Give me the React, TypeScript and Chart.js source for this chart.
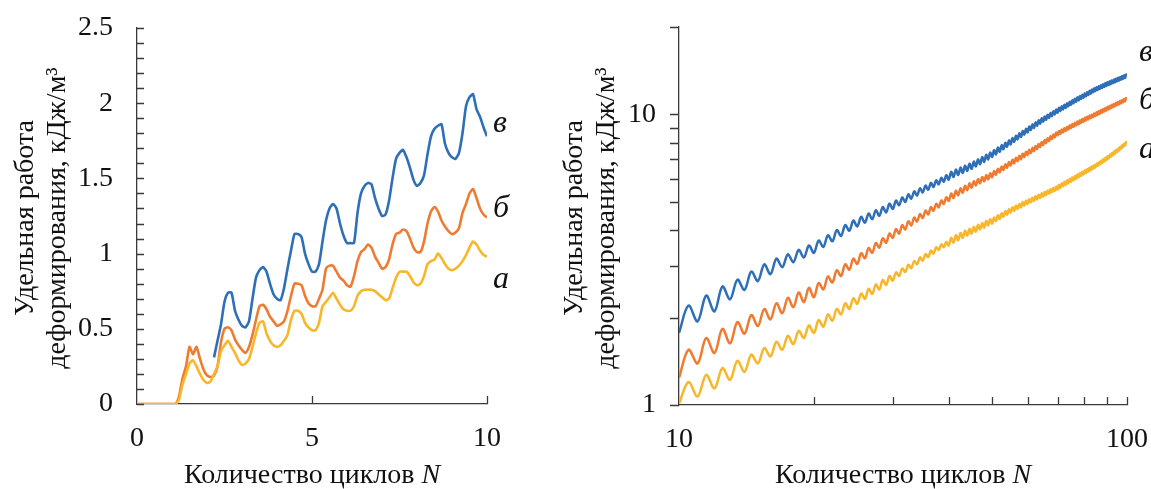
import React, { useEffect, useRef } from "react";
import { Chart, registerables } from "chart.js";

Chart.register(...registerables);

const FONT = '"Liberation Serif", "Times New Roman", serif';
const AXIS = "#3a3a3a";
const TEXT = "#111111";
const COLOR_A = "#f8b62a";
const COLOR_B = "#ef7b31";
const COLOR_C = "#2e6fb7";

// ---------- Left chart (linear): cycles 0..10 ----------
const cyclesLin = [
  0, 0.1, 0.2, 0.3, 0.4, 0.5, 0.6, 0.7, 0.8, 0.9,
  1, 1.1, 1.2, 1.3, 1.4, 1.5, 1.6, 1.7, 1.8, 1.9,
  2, 2.1, 2.2, 2.3, 2.4, 2.5, 2.6, 2.7, 2.8, 2.9,
  3, 3.1, 3.2, 3.3, 3.4, 3.5, 3.6, 3.7, 3.8, 3.9,
  4, 4.1, 4.2, 4.3, 4.4, 4.5, 4.6, 4.7, 4.8, 4.9,
  5, 5.1, 5.2, 5.3, 5.4, 5.5, 5.6, 5.7, 5.8, 5.9,
  6, 6.1, 6.2, 6.3, 6.4, 6.5, 6.6, 6.7, 6.8, 6.9,
  7, 7.1, 7.2, 7.3, 7.4, 7.5, 7.6, 7.7, 7.8, 7.9,
  8, 8.1, 8.2, 8.3, 8.4, 8.5, 8.6, 8.7, 8.8, 8.9,
  9, 9.1, 9.2, 9.3, 9.4, 9.5, 9.6, 9.7, 9.8, 9.9,
  10,
];

const workLinA = [
  0, 0, 0, 0, 0, 0, 0, 0, 0, 0,
  0, 0, 0.03, 0.13, 0.2, 0.27, 0.29, 0.25, 0.2, 0.16,
  0.14, 0.15, 0.2, 0.25, 0.35, 0.39, 0.42, 0.38, 0.34, 0.29,
  0.26, 0.27, 0.3, 0.38, 0.47, 0.54, 0.55, 0.47, 0.42, 0.39,
  0.38, 0.39, 0.42, 0.46, 0.56, 0.62, 0.62, 0.6, 0.54, 0.51,
  0.49, 0.49, 0.54, 0.65, 0.68, 0.71, 0.74, 0.7, 0.66, 0.63,
  0.62, 0.62, 0.65, 0.72, 0.75, 0.76, 0.76, 0.76, 0.75, 0.73,
  0.71, 0.69, 0.7, 0.77, 0.84, 0.88, 0.88, 0.88, 0.85, 0.81,
  0.79, 0.8, 0.85, 0.93, 0.95, 0.96, 1.0, 0.97, 0.93, 0.9,
  0.89, 0.9, 0.92, 0.95, 0.99, 1.04, 1.08, 1.06, 1.02, 0.99,
  0.98,
];

const workLinB = [
  0, 0, 0, 0, 0, 0, 0, 0, 0, 0,
  0, 0, 0.05, 0.17, 0.25, 0.38, 0.33, 0.38, 0.3, 0.23,
  0.19, 0.18, 0.19, 0.25, 0.41, 0.5, 0.51, 0.49, 0.43, 0.39,
  0.36, 0.34, 0.38, 0.46, 0.56, 0.65, 0.66, 0.63, 0.58, 0.55,
  0.52, 0.53, 0.55, 0.62, 0.72, 0.8, 0.8, 0.79, 0.72, 0.67,
  0.65, 0.65, 0.7, 0.76, 0.9, 0.92, 0.92, 0.88, 0.84, 0.82,
  0.79, 0.78, 0.85, 0.95, 1.01, 1.03, 1.06, 1.04, 0.98, 0.94,
  0.9, 0.91, 0.96, 1.06, 1.13, 1.14, 1.16, 1.15, 1.1, 1.04,
  1.01, 1.01, 1.08, 1.2, 1.28, 1.31, 1.28, 1.22, 1.18, 1.15,
  1.13, 1.14, 1.17, 1.27, 1.33, 1.4, 1.43, 1.37, 1.3, 1.26,
  1.24,
];

const workLinC = [
  null, null, null, null, null, null, null, null, null, null,
  null, null, null, null, null, null, null, null, null, null,
  null, null, 0.31, 0.42, 0.53, 0.68, 0.74, 0.74, 0.62, 0.56,
  0.52, 0.51, 0.55, 0.7, 0.84, 0.89, 0.91, 0.88, 0.8, 0.73,
  0.7, 0.69, 0.77, 0.9, 1.02, 1.13, 1.13, 1.11, 1.0, 0.93,
  0.88, 0.88, 0.93, 1.08, 1.22, 1.3, 1.33, 1.3, 1.2, 1.12,
  1.07, 1.07, 1.07, 1.27, 1.4, 1.45, 1.47, 1.46, 1.37, 1.3,
  1.25, 1.26, 1.35, 1.5, 1.63, 1.67, 1.69, 1.64, 1.57, 1.49,
  1.45, 1.47, 1.52, 1.66, 1.78, 1.83, 1.85, 1.86, 1.73, 1.67,
  1.64, 1.63, 1.67, 1.8, 1.98, 2.04, 2.06, 1.96, 1.91, 1.84,
  1.78,
];

// ---------- Right chart (log-log): cycles 10..100 ----------
const cyclesLog = [
  10, 10.5, 11, 11.5, 12, 12.5, 13, 13.5, 14, 14.5,
  15, 15.5, 16, 16.5, 17, 17.5, 18, 18.5, 19, 19.5,
  20, 20.5, 21, 21.5, 22, 22.5, 23, 23.5, 24, 24.5,
  25, 25.5, 26, 26.5, 27, 27.5, 28, 28.5, 29, 29.5,
  30, 30.5, 31, 31.5, 32, 32.5, 33, 33.5, 34, 34.5,
  35, 35.5, 36, 36.5, 37, 37.5, 38, 38.5, 39, 39.5,
  40, 40.5, 41, 41.5, 42, 42.5, 43, 43.5, 44, 44.5,
  45, 45.5, 46, 46.5, 47, 47.5, 48, 48.5, 49, 49.5,
  50, 50.5, 51, 51.5, 52, 52.5, 53, 53.5, 54, 54.5,
  55, 55.5, 56, 56.5, 57, 57.5, 58, 58.5, 59, 59.5,
  60, 60.5, 61, 61.5, 62, 62.5, 63, 63.5, 64, 64.5,
  65, 65.5, 66, 66.5, 67, 67.5, 68, 68.5, 69, 69.5,
  70, 70.5, 71, 71.5, 72, 72.5, 73, 73.5, 74, 74.5,
  75, 75.5, 76, 76.5, 77, 77.5, 78, 78.5, 79, 79.5,
  80, 80.5, 81, 81.5, 82, 82.5, 83, 83.5, 84, 84.5,
  85, 85.5, 86, 86.5, 87, 87.5, 88, 88.5, 89, 89.5,
  90, 90.5, 91, 91.5, 92, 92.5, 93, 93.5, 94, 94.5,
  95, 95.5, 96, 96.5, 97, 97.5, 98, 98.5, 99, 99.5,
  100,
];

const workLogA = [
  1.01, 1.20, 1.07, 1.27, 1.14, 1.34, 1.22, 1.42, 1.30, 1.49,
  1.39, 1.57, 1.47, 1.65, 1.55, 1.73, 1.62, 1.80, 1.70, 1.88,
  1.77, 1.96, 1.86, 2.05, 1.95, 2.14, 2.05, 2.24, 2.14, 2.33,
  2.23, 2.42, 2.32, 2.51, 2.41, 2.60, 2.50, 2.69, 2.59, 2.78,
  2.68, 2.86, 2.78, 2.95, 2.87, 3.04, 2.96, 3.13, 3.05, 3.22,
  3.14, 3.31, 3.23, 3.40, 3.32, 3.49, 3.41, 3.57, 3.49, 3.65,
  3.54, 3.76, 3.62, 3.84, 3.69, 3.91, 3.76, 3.98, 3.83, 4.04,
  3.89, 4.10, 3.95, 4.17, 4.02, 4.23, 4.08, 4.30, 4.15, 4.36,
  4.21, 4.42, 4.30, 4.50, 4.37, 4.57, 4.45, 4.65, 4.52, 4.72,
  4.60, 4.79, 4.66, 4.86, 4.73, 4.92, 4.79, 4.99, 4.86, 5.05,
  4.92, 5.11, 4.98, 5.17, 5.04, 5.23, 5.10, 5.29, 5.16, 5.35,
  5.22, 5.41, 5.28, 5.47, 5.34, 5.53, 5.40, 5.59, 5.46, 5.65,
  5.52, 5.72, 5.59, 5.79, 5.66, 5.86, 5.73, 5.93, 5.80, 6.00,
  5.87, 6.07, 5.94, 6.14, 6.01, 6.21, 6.08, 6.28, 6.15, 6.35,
  6.22, 6.42, 6.29, 6.49, 6.36, 6.56, 6.43, 6.63, 6.50, 6.70,
  6.57, 6.77, 6.65, 6.85, 6.73, 6.93, 6.81, 7.01, 6.89, 7.09,
  6.97, 7.18, 7.06, 7.27, 7.15, 7.36, 7.24, 7.45, 7.33, 7.54,
  7.42, 7.63, 7.52, 7.73, 7.62, 7.83, 7.72, 7.93, 7.82, 8.03,
  7.98,
];

const workLogB = [
  1.24, 1.55, 1.39, 1.70, 1.51, 1.83, 1.63, 1.93, 1.76, 2.04,
  1.87, 2.14, 1.97, 2.24, 2.07, 2.34, 2.17, 2.44, 2.26, 2.53,
  2.35, 2.63, 2.50, 2.77, 2.64, 2.91, 2.78, 3.05, 2.92, 3.19,
  3.06, 3.33, 3.20, 3.47, 3.34, 3.61, 3.48, 3.75, 3.62, 3.89,
  3.76, 4.03, 3.89, 4.16, 4.02, 4.29, 4.15, 4.42, 4.28, 4.54,
  4.40, 4.67, 4.53, 4.80, 4.66, 4.93, 4.79, 5.06, 4.92, 5.19,
  5.04, 5.34, 5.16, 5.46, 5.27, 5.57, 5.38, 5.68, 5.49, 5.79,
  5.60, 5.89, 5.70, 5.99, 5.80, 6.09, 5.89, 6.18, 5.98, 6.27,
  6.08, 6.38, 6.20, 6.50, 6.32, 6.62, 6.44, 6.74, 6.56, 6.86,
  6.68, 6.98, 6.79, 7.09, 6.91, 7.21, 7.02, 7.32, 7.14, 7.44,
  7.25, 7.55, 7.37, 7.67, 7.49, 7.79, 7.61, 7.91, 7.73, 8.03,
  7.85, 8.16, 7.98, 8.28, 8.10, 8.41, 8.23, 8.53, 8.35, 8.66,
  8.48, 8.77, 8.58, 8.87, 8.68, 8.97, 8.78, 9.07, 8.88, 9.17,
  8.98, 9.27, 9.07, 9.36, 9.17, 9.46, 9.26, 9.55, 9.36, 9.65,
  9.45, 9.74, 9.54, 9.82, 9.62, 9.91, 9.71, 9.99, 9.79, 10.08,
  9.88, 10.17, 9.97, 10.26, 10.06, 10.35, 10.15, 10.44, 10.24, 10.53,
  10.33, 10.62, 10.42, 10.70, 10.50, 10.79, 10.59, 10.87, 10.67, 10.96,
  10.76, 11.04, 10.84, 11.13, 10.93, 11.21, 11.01, 11.30, 11.10, 11.38,
  11.28,
];

const workLogC = [
  1.77, 2.20, 1.94, 2.38, 2.10, 2.56, 2.31, 2.70, 2.49, 2.88,
  2.67, 3.05, 2.82, 3.19, 2.98, 3.30, 3.10, 3.42, 3.22, 3.54,
  3.34, 3.68, 3.50, 3.84, 3.66, 4.00, 3.82, 4.16, 3.98, 4.31,
  4.12, 4.44, 4.24, 4.56, 4.36, 4.68, 4.48, 4.80, 4.60, 4.93,
  4.73, 5.05, 4.87, 5.18, 5.00, 5.31, 5.13, 5.44, 5.26, 5.57,
  5.39, 5.69, 5.51, 5.81, 5.63, 5.93, 5.75, 6.05, 5.87, 6.18,
  5.96, 6.35, 6.09, 6.46, 6.19, 6.56, 6.29, 6.66, 6.39, 6.77,
  6.50, 6.88, 6.62, 7.00, 6.74, 7.13, 6.87, 7.26, 7.00, 7.39,
  7.14, 7.54, 7.29, 7.69, 7.44, 7.84, 7.59, 7.99, 7.74, 8.14,
  7.89, 8.29, 8.05, 8.45, 8.21, 8.61, 8.37, 8.77, 8.53, 8.93,
  8.67, 9.09, 8.84, 9.24, 8.99, 9.39, 9.15, 9.55, 9.30, 9.70,
  9.45, 9.84, 9.59, 9.98, 9.73, 10.12, 9.87, 10.26, 10.01, 10.40,
  10.15, 10.54, 10.28, 10.67, 10.41, 10.80, 10.54, 10.93, 10.67, 11.06,
  10.80, 11.19, 10.93, 11.32, 11.06, 11.45, 11.19, 11.57, 11.31, 11.69,
  11.43, 11.81, 11.55, 11.93, 11.67, 12.06, 11.80, 12.18, 11.92, 12.30,
  12.04, 12.41, 12.14, 12.51, 12.24, 12.61, 12.34, 12.71, 12.44, 12.81,
  12.54, 12.91, 12.63, 13.00, 12.72, 13.09, 12.81, 13.18, 12.90, 13.27,
  12.99, 13.36, 13.08, 13.45, 13.17, 13.54, 13.26, 13.63, 13.35, 13.72,
  13.55,
];

// ---------- Texts / tick labels ----------
const curveLabels = ["а", "б", "в"];
const linYTickLabels = [0, 0.5, 1, 1.5, 2, 2.5];
const linXTickLabels = [0, 5, 10];
const logYTickLabels = [1, 10];
const logXTickLabels = [10, 100];
const yTitleLines = ["Удельная работа", "деформирования, кДж/м³"];
const xTitleMain = "Количество циклов ";
const xTitleVar = "N";

const TICK_FONT = { family: FONT, size: 28 };

function hasLabel(list: number[], v: number) {
  return list.some((l) => Math.abs(l - v) < 1e-6 * Math.max(1, Math.abs(l)));
}

// log axes only mark 1..9 × 10^n
function isDecadeStep(v: number) {
  const e = Math.pow(10, Math.floor(Math.log10(v) + 1e-9));
  const m = v / e;
  return Math.abs(m - Math.round(m)) < 1e-6;
}

function makeSet(label: string, xs: number[], ys: (number | null)[], color: string, width: number, tension: number) {
  return {
    label,
    data: xs.map((x, i) => ({ x, y: ys[i] })),
    borderColor: color,
    backgroundColor: color,
    borderWidth: width,
    pointRadius: 0,
    pointHoverRadius: 0,
    tension,
    fill: false,
    spanGaps: false,
  };
}

function noScalePadding(s: any) {
  s.paddingTop = 0;
  s.paddingBottom = 0;
  s.paddingLeft = 0;
  s.paddingRight = 0;
}

function decorPlugin(spec: any) {
  return {
    id: "decor",
    afterDraw(chart: any) {
      const { ctx, chartArea: a, scales } = chart;
      const xs = scales.x;
      const ys = scales.y;
      ctx.save();
      ctx.strokeStyle = AXIS;
      ctx.lineWidth = 1.3;
      ctx.beginPath();
      ys.ticks.forEach((t: any) => {
        if (spec.log && !isDecadeStep(t.value)) return;
        const p = Math.round(ys.getPixelForValue(t.value)) + 0.5;
        if (spec.yInside) {
          ctx.moveTo(a.left, p);
          ctx.lineTo(a.left + spec.yTickLen, p);
        } else {
          ctx.moveTo(a.left - spec.yTickLen, p);
          ctx.lineTo(a.left, p);
        }
      });
      xs.ticks.forEach((t: any) => {
        if (spec.log && !isDecadeStep(t.value)) return;
        const p = Math.round(xs.getPixelForValue(t.value)) + 0.5;
        if (p <= a.left + 2) return;
        ctx.moveTo(p, a.bottom);
        ctx.lineTo(p, a.bottom - spec.xTickLen);
      });
      ctx.stroke();

      ctx.fillStyle = TEXT;
      // y title (two rotated lines)
      ctx.font = `28px ${FONT}`;
      ctx.textAlign = "center";
      ctx.textBaseline = "middle";
      const yMid = (a.top + a.bottom) / 2 + spec.yTitleDy;
      yTitleLines.forEach((line, i) => {
        ctx.save();
        ctx.translate(a.left + spec.yTitleOffsets[i], yMid);
        ctx.rotate(-Math.PI / 2);
        ctx.fillText(line, 0, 0);
        ctx.restore();
      });

      // x title with italic variable
      const normal = `28px ${FONT}`;
      const italic = `italic 28px ${FONT}`;
      ctx.font = normal;
      const w1 = ctx.measureText(xTitleMain).width;
      ctx.font = italic;
      const w2 = ctx.measureText(xTitleVar).width;
      const start = (a.left + a.right) / 2 - (w1 + w2) / 2;
      ctx.textAlign = "left";
      ctx.textBaseline = "alphabetic";
      ctx.font = normal;
      ctx.fillText(xTitleMain, start, a.bottom + spec.xTitleDy);
      ctx.font = italic;
      ctx.fillText(xTitleVar, start + w1, a.bottom + spec.xTitleDy);

      // curve labels next to line ends
      ctx.font = `italic 32px ${FONT}`;
      chart.data.datasets.forEach((ds: any, i: number) => {
        const last = ds.data[ds.data.length - 1];
        const py = ys.getPixelForValue(last.y) + spec.labelDy[i];
        ctx.fillText(curveLabels[i], a.right + spec.labelDx, py);
      });
      ctx.restore();
    },
  };
}

function leftConfig(): any {
  return {
    type: "line",
    data: {
      datasets: [
        makeSet("а", cyclesLin, workLinA, COLOR_A, 2.6, 0.2),
        makeSet("б", cyclesLin, workLinB, COLOR_B, 2.6, 0.2),
        makeSet("в", cyclesLin, workLinC, COLOR_C, 2.6, 0.2),
      ],
    },
    options: {
      responsive: false,
      animation: false,
      devicePixelRatio: 1,
      layout: { padding: { top: 28, right: 73, bottom: 0, left: 0 } },
      plugins: { legend: { display: false }, tooltip: { enabled: false }, title: { display: false } },
      scales: {
        x: {
          type: "linear",
          min: 0,
          max: 10,
          ticks: {
            stepSize: 5,
            autoSkip: false,
            maxRotation: 0,
            font: TICK_FONT,
            color: TEXT,
            padding: 18,
            callback: (v: number) => (hasLabel(linXTickLabels, v) ? String(v) : ""),
          },
          grid: { drawOnChartArea: false, drawTicks: false },
          border: { color: AXIS, width: 1.3 },
          afterFit: (s: any) => {
            s.height = 85;
            noScalePadding(s);
          },
        },
        y: {
          type: "linear",
          min: 0,
          max: 2.5,
          ticks: {
            stepSize: 0.1,
            autoSkip: false,
            font: TICK_FONT,
            color: TEXT,
            padding: 24,
            callback: (v: number) => (hasLabel(linYTickLabels, v) ? String(Math.round(v * 10) / 10) : ""),
          },
          grid: { drawOnChartArea: false, drawTicks: false },
          border: { color: AXIS, width: 1.3 },
          afterFit: (s: any) => {
            s.width = 137;
            noScalePadding(s);
          },
        },
      },
    },
    plugins: [
      decorPlugin({
        log: false,
        yInside: true,
        yTickLen: 7,
        xTickLen: 8,
        yTitleOffsets: [-111, -79],
        yTitleDy: 2,
        xTitleDy: 79,
        labelDx: 6,
        labelDy: [31, -1, -4],
      }),
    ],
  };
}

function rightConfig(): any {
  return {
    type: "line",
    data: {
      datasets: [
        makeSet("а", cyclesLog, workLogA, COLOR_A, 2.5, 0.35),
        makeSet("б", cyclesLog, workLogB, COLOR_B, 2.5, 0.35),
        makeSet("в", cyclesLog, workLogC, COLOR_C, 2.5, 0.35),
      ],
    },
    options: {
      responsive: false,
      animation: false,
      devicePixelRatio: 1,
      layout: { padding: { top: 27, right: 24, bottom: 0, left: 0 } },
      plugins: { legend: { display: false }, tooltip: { enabled: false }, title: { display: false } },
      scales: {
        x: {
          type: "logarithmic",
          min: 10,
          max: 100,
          ticks: {
            autoSkip: false,
            maxRotation: 0,
            font: TICK_FONT,
            color: TEXT,
            padding: 18,
            callback: (v: number) => (hasLabel(logXTickLabels, v) ? String(v) : ""),
          },
          grid: { drawOnChartArea: false, drawTicks: false },
          border: { color: AXIS, width: 1.3 },
          afterFit: (s: any) => {
            s.height = 84;
            noScalePadding(s);
          },
        },
        y: {
          type: "logarithmic",
          min: 1,
          max: 20,
          ticks: {
            autoSkip: false,
            font: TICK_FONT,
            color: TEXT,
            padding: 23,
            callback: (v: number) => (hasLabel(logYTickLabels, v) ? String(v) : ""),
          },
          grid: { drawOnChartArea: false, drawTicks: false },
          border: { color: AXIS, width: 1.3 },
          afterFit: (s: any) => {
            s.width = 119;
            noScalePadding(s);
          },
        },
      },
    },
    plugins: [
      decorPlugin({
        log: true,
        yInside: false,
        yTickLen: 9,
        xTickLen: 8,
        yTitleOffsets: [-104, -72],
        yTitleDy: 2,
        xTitleDy: 78,
        labelDx: 12,
        labelDy: [15, 10, -15],
      }),
    ],
  };
}

export default function App() {
  const leftRef = useRef<HTMLCanvasElement>(null);
  const rightRef = useRef<HTMLCanvasElement>(null);

  useEffect(() => {
    Chart.defaults.font.family = FONT;
    const left = new Chart(leftRef.current as HTMLCanvasElement, leftConfig());
    const right = new Chart(rightRef.current as HTMLCanvasElement, rightConfig());
    return () => {
      left.destroy();
      right.destroy();
    };
  }, []);

  return (
    <div
      style={{
        position: "fixed",
        left: 0,
        top: 0,
        width: 1151,
        height: 489,
        background: "#ffffff",
        overflow: "hidden",
      }}
    >
      <canvas
        ref={leftRef}
        width={560}
        height={489}
        style={{ position: "absolute", left: 0, top: 0, width: 560, height: 489 }}
      />
      <canvas
        ref={rightRef}
        width={591}
        height={489}
        style={{ position: "absolute", left: 560, top: 0, width: 591, height: 489 }}
      />
    </div>
  );
}
